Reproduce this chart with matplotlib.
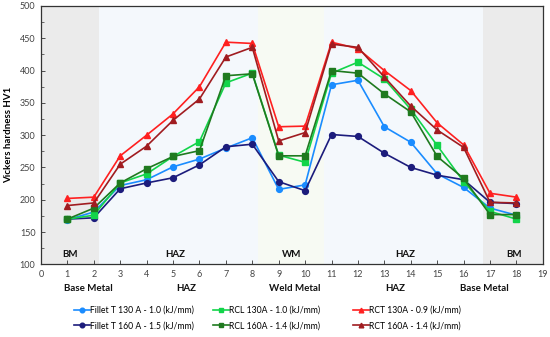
import matplotlib
matplotlib.use("Agg")
import matplotlib.pyplot as plt
from matplotlib.ticker import MultipleLocator

plt.rcParams['font.family'] = ['Lato', 'DejaVu Sans']

positions = list(range(1, 19))
fillet_t_130 = [169, 181, 222, 231, 251, 263, 280, 296, 216, 223, 378, 385, 313, 289, 240, 219, 187, 176]
fillet_t_160 = [170, 172, 217, 226, 234, 254, 282, 286, 228, 214, 301, 298, 272, 250, 238, 231, 196, 194]
rcl_130 = [170, 176, 226, 240, 267, 290, 381, 396, 269, 258, 396, 413, 387, 340, 284, 228, 182, 170]
rcl_160 = [170, 187, 226, 248, 267, 276, 392, 395, 268, 268, 400, 396, 364, 336, 267, 233, 177, 177]
rct_130 = [202, 204, 268, 300, 333, 375, 444, 442, 313, 314, 444, 434, 400, 369, 319, 285, 210, 204]
rct_160 = [191, 195, 255, 283, 323, 356, 421, 436, 291, 304, 441, 436, 390, 345, 308, 281, 196, 195]

series = [
    ("Fillet T 130 A - 1.0 (kJ/mm)", fillet_t_130, "#1a8cff", "o"),
    ("Fillet T 160 A - 1.5 (kJ/mm)", fillet_t_160, "#1c1c7c", "o"),
    ("RCL 130A - 1.0 (kJ/mm)", rcl_130, "#12d44a", "s"),
    ("RCL 160A - 1.4 (kJ/mm)", rcl_160, "#1f7a1f", "s"),
    ("RCT 130A - 0.9 (kJ/mm)", rct_130, "#ff2020", "^"),
    ("RCT 160A - 1.4 (kJ/mm)", rct_160, "#a01c20", "^"),
]

zones = [(0, 2.18, "#ebebeb", "BM", 1.1),
         (2.18, 8.23, "#f4f8fc", "HAZ", 5.1),
         (8.23, 10.72, "#f7faf3", "WM", 9.5),
         (10.72, 16.73, "#f4f8fc", "HAZ", 13.8),
         (16.73, 19, "#ebebeb", "BM", 17.9)]

region_labels = [(1.8, "Base Metal"), (5.5, "HAZ"), (9.6, "Weld Metal"), (13.4, "HAZ"), (16.8, "Base Metal")]

fig = plt.figure(figsize=(5.5, 3.37), dpi=100)
ax = fig.add_axes([0.0745, 0.2157, 0.9125, 0.7665])

for x0, x1, c, lab, xl in zones:
    ax.axvspan(x0, x1, color=c, zorder=0, lw=0)
    ax.text(xl, 115, lab, ha='center', va='center', fontsize=7, fontweight='bold', color='#111111')

for name, vals, col, m in series:
    ax.plot(positions, vals, color=col, marker=m, ms=4.2, lw=1.2, label=name, zorder=3)

ax.set_xlim(0, 19)
ax.set_ylim(100, 500)
ax.set_xticks(range(0, 20))
ax.set_yticks(range(100, 501, 50))
ax.yaxis.set_minor_locator(MultipleLocator(25))
ax.tick_params(labelsize=6.5, color='#333333', labelcolor='#444444', length=3, width=0.6,
               direction='in', pad=4)
ax.tick_params(which='minor', length=2, width=0.5, direction='in', color='#333333')
for s in ax.spines.values():
    s.set_color('#333333')
    s.set_linewidth(0.9)

ax.set_ylabel("Vickers hardness HV1", fontsize=7, fontweight='bold', labelpad=5)

for xl, t in region_labels:
    ax.text(xl, -0.095, t, transform=ax.get_xaxis_transform(), ha='center', va='center',
            fontsize=7, fontweight='bold', color='#111111')

handles, labels = ax.get_legend_handles_labels()
col_x = [74 / 550, 213 / 550, 353 / 550]
for ci in range(3):
    lg = fig.legend(handles[2 * ci:2 * ci + 2], labels[2 * ci:2 * ci + 2], ncol=1,
                    loc='upper left', bbox_to_anchor=(col_x[ci], 1 - 306 / 337), frameon=False,
                    fontsize=6.2, handlelength=1.8, handletextpad=0.1, borderpad=0,
                    borderaxespad=0, labelspacing=0.75, markerscale=0.8)

fig.savefig("out.png", dpi=100)
